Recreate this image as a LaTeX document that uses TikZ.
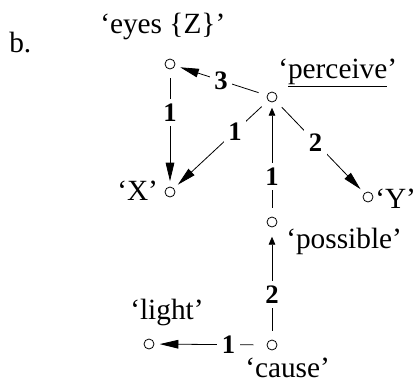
\documentclass[tikz,border=0pt]{standalone}
\usepackage{fontspec}
\setmainfont{Liberation Serif}
\usetikzlibrary{arrows.meta}
\begin{document}
\begin{tikzpicture}[x=0.75pt,y=-0.75pt,
  pt/.style={circle,draw,line width=0.6pt,minimum size=7.5pt,inner sep=0pt},
  lbl/.style={font=\fontsize{22}{26}\selectfont,inner sep=0pt,anchor=base west},
  num/.style={font=\fontsize{20}{24}\selectfont\bfseries,fill=white,inner sep=3.5pt},
  edge/.style={line width=0.6pt,shorten <=6.5pt,shorten >=4pt},
  big/.style={edge,-{Triangle[length=14pt,width=6.5pt]}},
  small/.style={edge,-{Triangle[length=6pt,width=5pt]}}]
\useasboundingbox (0,0) rectangle (419,383);
% points
\node[pt] (eyes) at (170,64) {};
\node[pt] (perceive) at (272,97) {};
\node[pt] (X) at (170,192) {};
\node[pt] (Y) at (368,197) {};
\node[pt] (possible) at (272,222) {};
\node[pt] (cause) at (272,345) {};
\node[pt] (light) at (149,344) {};
% labels
\node[lbl] (b) at (9,52) {b.};
\node[lbl] (eyesl) at (100,33) {‘eyes \{Z\}’};
\node[lbl] (perceivel) at (278,78) {‘\underline{perceive}’};
\node[lbl] (Xl) at (117,200) {‘X’};
\node[lbl] (Yl) at (375,208) {‘Y’};
\node[lbl] (possiblel) at (286,248) {‘possible’};
\node[lbl] (lightl) at (130,319) {‘light’};
\node[lbl] (causel) at (245,377) {‘cause’};
% connectors
\draw[big] (perceive) -- node[num,pos=0.5]{3} (eyes);
\draw[big] (eyes) -- node[num,pos=0.37]{1} (X);
\draw[big] (perceive) -- node[num,pos=0.35]{1} (X);
\draw[big] (perceive) -- node[num,pos=0.45]{2} (Y);
\draw[small] (possible) -- node[num,pos=0.35]{1} (perceive);
\draw[small,shorten >=7pt] (cause) -- node[num,pos=0.4]{2} (possible);
\draw[big,shorten <=10pt] (cause) -- node[num,pos=0.34]{1} (light);
\end{tikzpicture}
\end{document}
